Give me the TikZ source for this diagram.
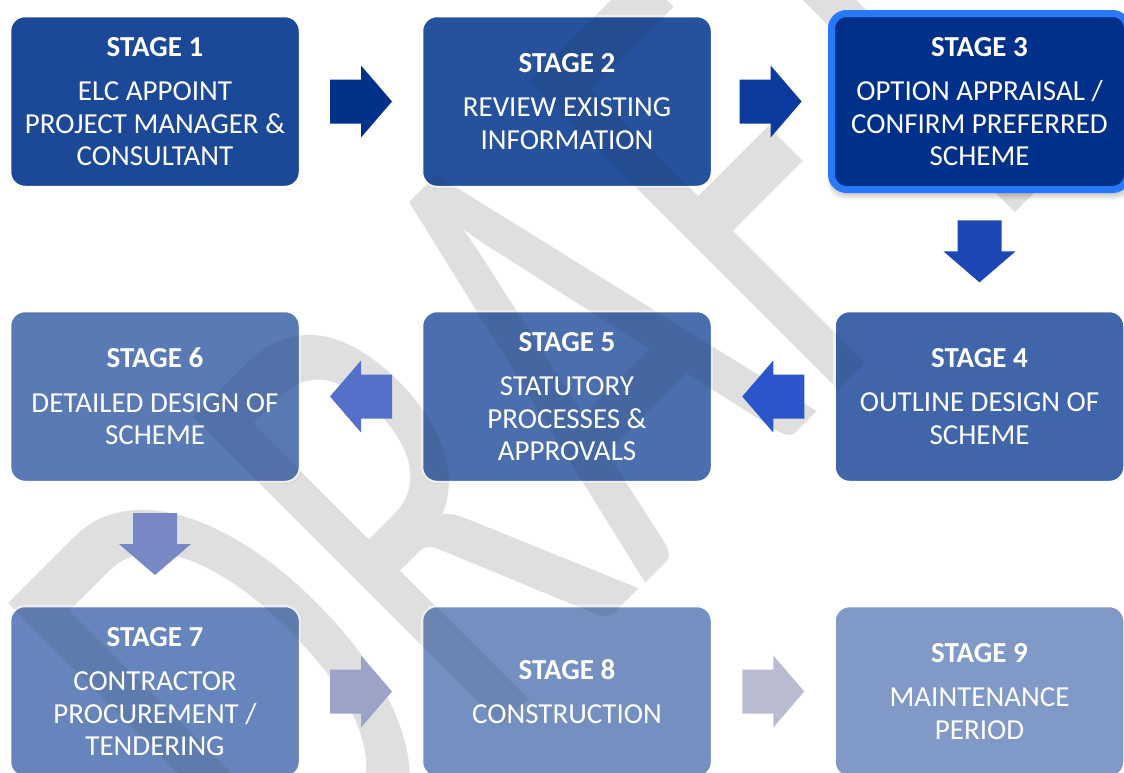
\documentclass[tikz,border=0pt]{standalone}
\usepackage{fontspec}
\setmainfont{Carlito}
\usetikzlibrary{calc}

% stage box fills
\definecolor{stageone}{RGB}{28,72,152}
\definecolor{stagetwo}{RGB}{38,82,157}
\definecolor{stagethree}{RGB}{0,48,138}
\definecolor{stagethreeedge}{RGB}{40,120,250}
\definecolor{stagefour}{RGB}{65,101,170}
\definecolor{stagefive}{RGB}{74,110,174}
\definecolor{stagesix}{RGB}{90,122,182}
\definecolor{stageseven}{RGB}{102,133,188}
\definecolor{stageeight}{RGB}{116,144,192}
\definecolor{stagenine}{RGB}{129,153,198}
% arrow fills
\definecolor{arrowa}{RGB}{0,50,138}
\definecolor{arrowb}{RGB}{13,58,158}
\definecolor{arrowc}{RGB}{29,71,181}
\definecolor{arrowd}{RGB}{44,85,204}
\definecolor{arrowe}{RGB}{84,112,200}
\definecolor{arrowf}{RGB}{120,136,196}
\definecolor{arrowg}{RGB}{156,163,201}
\definecolor{arrowh}{RGB}{185,187,209}
\definecolor{markgray}{RGB}{223,223,223}

% the big diagonal DRAFT mark
\newcommand\draftword[1]{%
  \begin{scope}[shift={(296,932)}, rotate=45, xscale=0.625]
    \node[anchor=base west, inner sep=0, outer sep=0, transform shape,
          font=\fontsize{680}{680}\selectfont, #1] at (0,0) {DRAFT};
  \end{scope}}

\tikzset{
  stagebox/.style={rectangle, rounded corners=15, minimum width=290, minimum height=171,
                   inner sep=0, draw=white, line width=2.5},
  stagetext/.style={text=white, align=center, inner sep=0,
                    font=\fontsize{29}{32.5}\selectfont},
  flowarrow/.pic={
    \fill (-31,-22) -- (0,-22) -- (0,-36) -- (31,0) -- (0,36) -- (0,22) -- (-31,22) -- cycle;
  }
}

\begin{document}
\begin{tikzpicture}[x=1pt, y=-1pt]
  \useasboundingbox (0,0) rectangle (1124,772);
  \clip (0,0) rectangle (1124,772);
  \fill[white] (0,0) rectangle (1124,772);

  % watermark behind everything
  \draftword{text=markgray}

  % soft shadow under stage 3
  \foreach \i in {1,...,6}
    \fill[black, opacity=0.035, rounded corners=18]
      (831-\i*0.6, 17+\i*0.4) rectangle (1130+\i*0.6, 193+\i*1.1);

  % stage boxes
  \node[stagebox, fill=stageone]   (b1) at (155,101.5) {};
  \node[stagebox, fill=stagetwo]   (b2) at (567,101.5) {};
  \node[stagebox, fill=stagethree, draw=stagethreeedge, line width=7,
        minimum width=296, minimum height=176] (b3) at (979.5,101.5) {};
  \node[stagebox, fill=stagefour]  (b4) at (979.5,396.5) {};
  \node[stagebox, fill=stagefive]  (b5) at (567,396.5) {};
  \node[stagebox, fill=stagesix]   (b6) at (155,396.5) {};
  \node[stagebox, fill=stageseven] (b7) at (155,691.5) {};
  \node[stagebox, fill=stageeight] (b8) at (567,691.5) {};
  \node[stagebox, fill=stagenine]  (b9) at (979.5,691.5) {};

  % the mark shows faintly through the lighter boxes
  \begin{scope}
    \clip[rounded corners=15]
      (b2.south west) rectangle (b2.north east)
      (b4.south west) rectangle (b4.north east)
      (b5.south west) rectangle (b5.north east)
      (b6.south west) rectangle (b6.north east)
      (b7.south west) rectangle (b7.north east)
      (b8.south west) rectangle (b8.north east)
      (b9.south west) rectangle (b9.north east);
    \draftword{text=black, text opacity=0.07}
  \end{scope}

  % stage labels
  \node[stagetext] (t1) at (b1.center) {\textbf{STAGE 1}\\[12pt]ELC APPOINT\\PROJECT MANAGER \&\\CONSULTANT};
  \node[stagetext] (t2) at (b2.center) {\textbf{STAGE 2}\\[12pt]REVIEW EXISTING\\INFORMATION};
  \node[stagetext] (t3) at (b3.center) {\textbf{STAGE 3}\\[12pt]OPTION APPRAISAL /\\CONFIRM PREFERRED\\SCHEME};
  \node[stagetext] (t4) at (b4.center) {\textbf{STAGE 4}\\[12pt]OUTLINE DESIGN OF\\SCHEME};
  \node[stagetext] (t5) at (b5.center) {\textbf{STAGE 5}\\[12pt]STATUTORY\\PROCESSES \&\\APPROVALS};
  \node[stagetext] (t6) at (b6.center) {\textbf{STAGE 6}\\[12pt]DETAILED DESIGN OF\\SCHEME};
  \node[stagetext] (t7) at (b7.center) {\textbf{STAGE 7}\\[12pt]CONTRACTOR\\PROCUREMENT /\\TENDERING};
  \node[stagetext] (t8) at (b8.center) {\textbf{STAGE 8}\\[12pt]CONSTRUCTION};
  \node[stagetext] (t9) at (b9.center) {\textbf{STAGE 9}\\[12pt]MAINTENANCE\\PERIOD};

  % block arrows between consecutive stages
  \pic[fill=arrowa] at ($(b1.east)!0.5!(b2.west)$) {flowarrow};
  \pic[fill=arrowb] at ($(b2.east)!0.5!(b3.west)$) {flowarrow};
  \pic[fill=arrowc, rotate=-90] at ($(b3.south)!0.5!(b4.north)$) {flowarrow};
  \pic[fill=arrowd, rotate=180] at ($(b4.west)!0.5!(b5.east)$) {flowarrow};
  \pic[fill=arrowe, rotate=180] at ($(b5.west)!0.5!(b6.east)$) {flowarrow};
  \pic[fill=arrowf, rotate=-90] at ($(b6.south)!0.5!(b7.north)$) {flowarrow};
  \pic[fill=arrowg] at ($(b7.east)!0.5!(b8.west)$) {flowarrow};
  \pic[fill=arrowh] at ($(b8.east)!0.5!(b9.west)$) {flowarrow};
\end{tikzpicture}
\end{document}
